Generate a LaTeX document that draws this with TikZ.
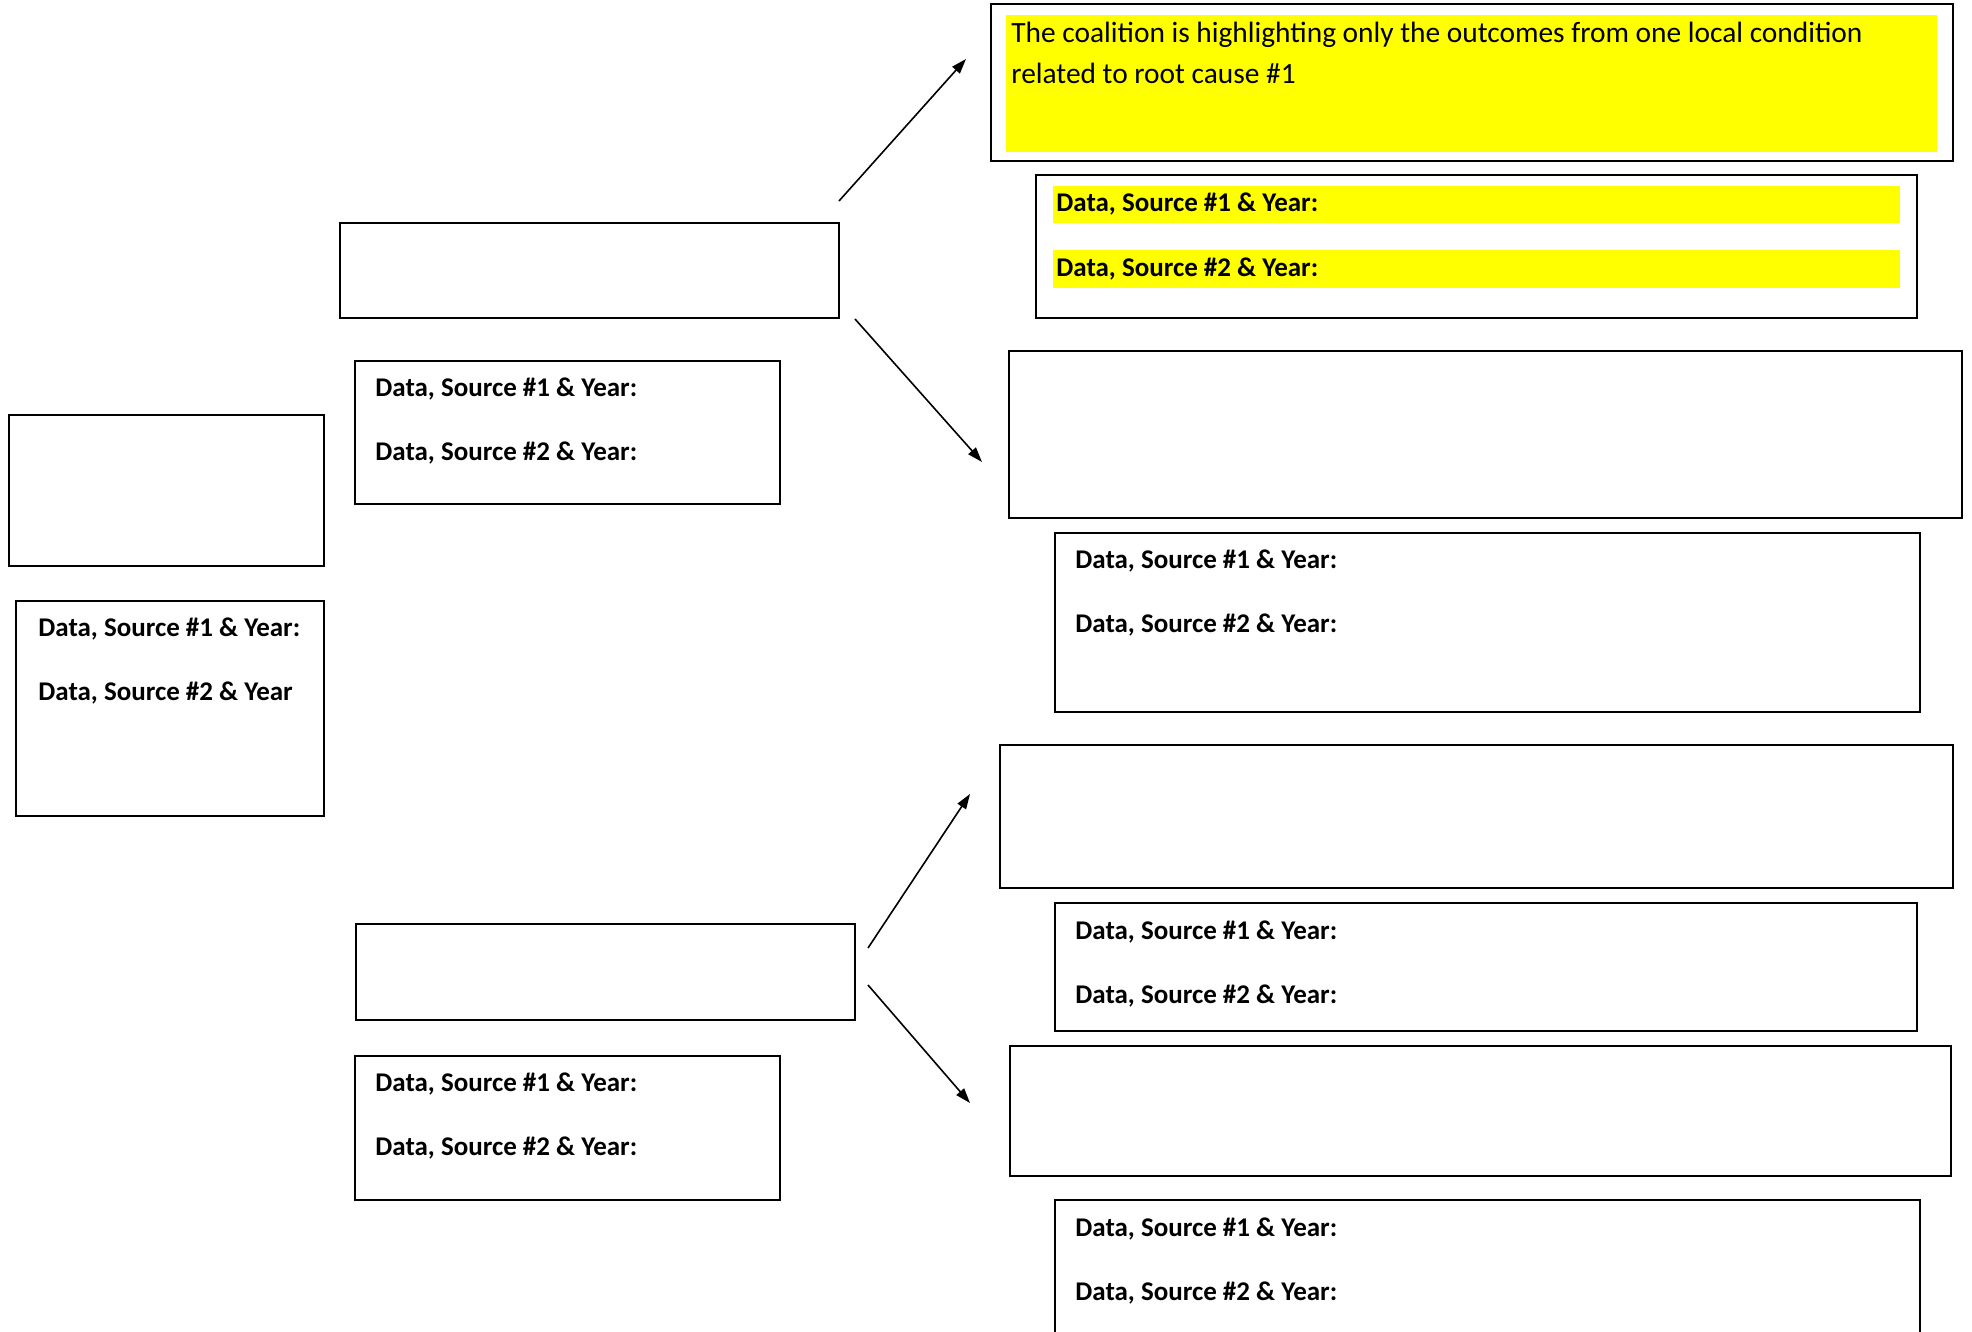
\documentclass[tikz,border=0pt]{standalone}
\usepackage{fontspec}
\setmainfont{Carlito}
\usetikzlibrary{arrows.meta,fit}
\definecolor{hlyellow}{RGB}{255,255,0}
\begin{document}
\begin{tikzpicture}[x=0.5pt,y=-0.5pt,
  box/.style={draw=black,line width=1pt,rectangle,inner sep=0pt},
  hl/.style={fill=hlyellow,draw=none,rectangle,inner sep=0pt},
  lbl/.style={anchor=west,inner sep=0pt,font=\fontsize{13.5}{16}\selectfont\bfseries},
  arr/.style={line width=0.8pt,-{Triangle[length=7.5pt,width=5pt]}}]
\useasboundingbox (0,0) rectangle (1972,1332);
% top right
\node[box,fit={(991,4)(1953,161)}] (A) {};
\node[hl,fit={(1006,15)(1937,152)}] (Ahl) {};
\node[anchor=base west,inner sep=0pt,align=left,font=\fontsize{14.7}{20.5}\selectfont] (Atxt) at (1011,84)
  {The coalition is highlighting only the outcomes from one local condition\\related to root cause \#1};
\node[box,fit={(1036,175)(1917,318)}] (B) {};
\node[hl,fit={(1053,186)(1900,223)}] (Bhl1) {};
\node[hl,fit={(1053,250)(1900,288)}] (Bhl2) {};
\node[lbl] (B1) at (1056,204) {Data, Source \#1 \& Year:};
\node[lbl] (B2) at (1056,269) {Data, Source \#2 \& Year:};
% middle column top
\node[box,fit={(340,223)(839,318)}] (C) {};
\node[box,fit={(355,361)(780,504)}] (D) {};
\node[lbl] (D1) at (375,389) {Data, Source \#1 \& Year:};
\node[lbl] (D2) at (375,453) {Data, Source \#2 \& Year:};
% left column
\node[box,fit={(9,415)(324,566)}] (E) {};
\node[box,fit={(16,601)(324,816)}] (F) {};
\node[lbl] (F1) at (38,629) {Data, Source \#1 \& Year:};
\node[lbl] (F2) at (38,693) {Data, Source \#2 \& Year};
% right column
\node[box,fit={(1009,351)(1962,518)}] (G) {};
\node[box,fit={(1055,533)(1920,712)}] (H) {};
\node[lbl] (H1) at (1075,561) {Data, Source \#1 \& Year:};
\node[lbl] (H2) at (1075,625) {Data, Source \#2 \& Year:};
\node[box,fit={(1000,745)(1953,888)}] (I) {};
\node[box,fit={(1055,903)(1917,1031)}] (J) {};
\node[lbl] (J1) at (1075,932) {Data, Source \#1 \& Year:};
\node[lbl] (J2) at (1075,996) {Data, Source \#2 \& Year:};
% middle column bottom
\node[box,fit={(356,924)(855,1020)}] (K) {};
\node[box,fit={(355,1056)(780,1200)}] (L) {};
\node[lbl] (L1) at (375,1084) {Data, Source \#1 \& Year:};
\node[lbl] (L2) at (375,1148) {Data, Source \#2 \& Year:};
\node[box,fit={(1010,1046)(1951,1176)}] (M) {};
\node[box,fit={(1055,1200)(1920,1345)}] (N) {};
\node[lbl] (N1) at (1075,1229) {Data, Source \#1 \& Year:};
\node[lbl] (N2) at (1075,1293) {Data, Source \#2 \& Year:};
% arrows
\coordinate (a1s) at (839,201); \coordinate (a1e) at (966,59);
\coordinate (a2s) at (855,319); \coordinate (a2e) at (982,462);
\coordinate (a3s) at (868,948); \coordinate (a3e) at (970,794);
\coordinate (a4s) at (868,985); \coordinate (a4e) at (970,1103);
\draw[arr] (a1s) -- (a1e);
\draw[arr] (a2s) -- (a2e);
\draw[arr] (a3s) -- (a3e);
\draw[arr] (a4s) -- (a4e);
\end{tikzpicture}
\end{document}
